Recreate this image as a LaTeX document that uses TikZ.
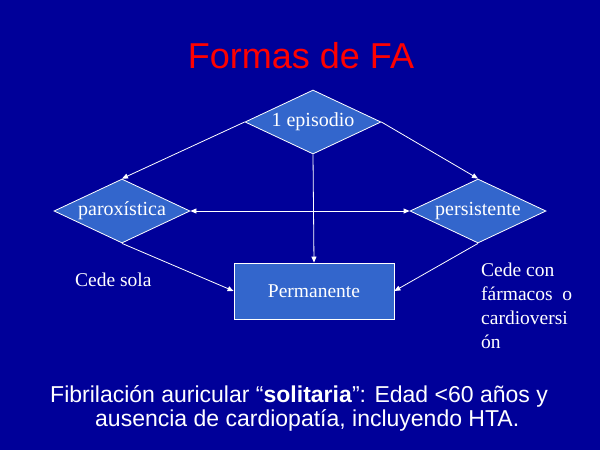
\documentclass[tikz,border=0pt]{standalone}
\usepackage{fontspec}
\setmainfont{Liberation Serif}
\newfontfamily\arialf{Liberation Sans}
\usetikzlibrary{shapes.geometric,arrows.meta}
\definecolor{bgblue}{RGB}{0,0,153}
\definecolor{boxblue}{RGB}{51,102,204}
\tikzset{
  dia/.style={diamond, draw=white, line width=0.8pt, fill=boxblue, text=white,
    inner sep=0pt, minimum width=136pt, minimum height=64pt, aspect=2.12,
    font=\fontsize{20}{24}\selectfont},
  boxnode/.style={rectangle, draw=white, line width=0.8pt, fill=boxblue, text=white,
    inner sep=0pt, minimum width=160pt, minimum height=56pt,
    font=\fontsize{19.5}{24}\selectfont},
  conn/.style={draw=white, line width=0.8pt},
  tip/.style={-{Triangle[length=6pt,width=5pt]}},
  lbl/.style={text=white, inner sep=0pt, font=\fontsize{19.5}{24}\selectfont},
  sans/.style={text=white, inner sep=0pt, font=\arialf\fontsize{23}{26}\selectfont}
}
\begin{document}
\begin{tikzpicture}[x=1pt,y=-1pt]
\fill[bgblue] (0,0) rectangle (600,450);
\useasboundingbox (0,0) rectangle (600,450);
\node[anchor=base, text=red, inner sep=0pt, font=\arialf\fontsize{36}{40}\selectfont] (title) at (301,68) {Formas de FA};
\node[dia] (ep) at (313,122) {1 episodio};
\node[dia] (par) at (122,211) {paroxística};
\node[dia] (per) at (478,211) {persistente};
\node[boxnode] (perm) at (314,291) {Permanente};
\draw[conn,tip] (ep.west) -- (par.north);
\draw[conn,tip] (ep.east) -- (per.north);
\draw[conn,tip] (ep.south) -- (perm.north);
\draw[conn,{Triangle[length=6pt,width=5pt]}-{Triangle[length=6pt,width=5pt]}] (par.east) -- (per.west);
\draw[conn,tip] (par.south) -- (perm.west);
\draw[conn,tip] (per.south) -- (perm.east);
\node[lbl, anchor=base west] (cs) at (75,286) {Cede sola};
\node[lbl, anchor=north west, align=left] (cc) at (481,263) {Cede con\\fármacos~ o\\cardioversi\\ón};
\node[sans, anchor=base west] (b1) at (50,402) {Fibrilación auricular “\textbf{solitaria}”: Edad <60 años y};
\node[sans, anchor=base west] (b2) at (95,426) {ausencia de cardiopatía, incluyendo HTA.};
\end{tikzpicture}
\end{document}
